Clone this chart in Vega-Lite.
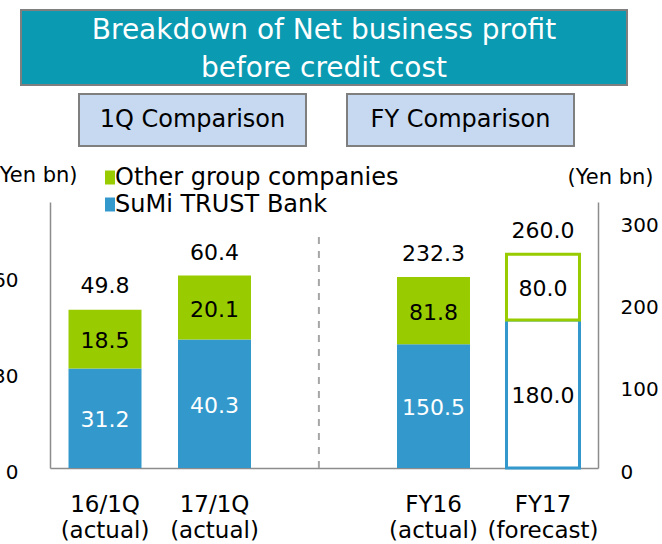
{
  "$schema": "https://vega.github.io/schema/vega-lite/v6.json",
  "autosize": {"type": "none"},
  "padding": {"left": -10, "top": 10, "right": 672, "bottom": 534},
  "config": {
    "font": "DejaVu Sans",
    "view": {"stroke": null},
    "axis": {"grid": false, "ticks": false, "tickSize": 0, "domainColor": "#8C8C8C", "domainWidth": 1.5, "labelColor": "black", "titleColor": "black", "titleFontWeight": "normal"}
  },
  "datasets": {
    "title": [{"label": "Breakdown of Net business profit\nbefore credit cost"}],
    "boxes": [{"label": "1Q Comparison"}, {"label": "FY Comparison"}],
    "q1": [
      {"period": "16/1Q (actual)", "series": "SuMi TRUST Bank", "kind": "actual", "value": 31.2},
      {"period": "16/1Q (actual)", "series": "Other group companies", "kind": "actual", "value": 18.5},
      {"period": "17/1Q (actual)", "series": "SuMi TRUST Bank", "kind": "actual", "value": 40.3},
      {"period": "17/1Q (actual)", "series": "Other group companies", "kind": "actual", "value": 20.1}
    ],
    "q1tot": [
      {"period": "16/1Q (actual)", "total": 49.8},
      {"period": "17/1Q (actual)", "total": 60.4}
    ],
    "fy": [
      {"period": "FY16 (actual)", "series": "SuMi TRUST Bank", "kind": "actual", "value": 150.5},
      {"period": "FY16 (actual)", "series": "Other group companies", "kind": "actual", "value": 81.8},
      {"period": "FY17 (forecast)", "series": "SuMi TRUST Bank", "kind": "forecast", "value": 180.0},
      {"period": "FY17 (forecast)", "series": "Other group companies", "kind": "forecast", "value": 80.0}
    ],
    "fytot": [
      {"period": "FY16 (actual)", "total": 232.3},
      {"period": "FY17 (forecast)", "total": 260.0}
    ],
    "divider": [{"period": "gap"}],
    "spacer": [{"k": 1}]
  },
  "spacing": 17,
  "vconcat": [
    {
      "spacing": 7,
      "vconcat": [
        {
          "width": 637,
          "height": 75,
          "data": {"name": "title"},
          "layer": [
            {
              "mark": {"type": "rect", "fill": "#0A9AB2", "stroke": "#7F7F7F", "strokeWidth": 2},
              "encoding": {"x": {"field": "label", "type": "nominal", "axis": null, "scale": {"paddingInner": 0, "paddingOuter": 0.02558, "align": 1}}}
            },
            {
              "mark": {"type": "text", "color": "white", "fontSize": 28, "lineBreak": "\n", "lineHeight": 38, "baseline": "middle", "dy": -17},
              "encoding": {"x": {"field": "label", "type": "nominal", "axis": null}, "text": {"field": "label"}}
            }
          ]
        },
        {
          "width": 584,
          "height": 52,
          "data": {"name": "boxes"},
          "layer": [
            {
              "mark": {"type": "rect", "fill": "#C6D9F1", "stroke": "#7F7F7F", "strokeWidth": 2},
              "encoding": {"x": {"field": "label", "type": "nominal", "axis": null, "scale": {"paddingInner": 0.15299, "paddingOuter": 0.166045, "align": 1}}}
            },
            {
              "mark": {"type": "text", "color": "black", "fontSize": 24, "baseline": "middle"},
              "encoding": {"x": {"field": "label", "type": "nominal", "axis": null}, "text": {"field": "label"}}
            }
          ]
        }
      ]
    },
    {
      "spacing": 0,
      "hconcat": [
        {
          "width": 1,
          "height": 1,
          "data": {"name": "spacer"},
          "mark": {"type": "rect", "opacity": 0}
        },
        {
          "width": 548,
          "height": 266,
          "layer": [
            {
              "layer": [
                {
                  "data": {"name": "q1"},
                  "transform": [{"stack": "value", "groupby": ["period"], "sort": [{"field": "series", "order": "descending"}], "as": ["v0", "v1"]}],
                  "mark": {"type": "bar"},
                  "encoding": {
                    "x": {"field": "period", "type": "nominal", "sort": null,
                      "scale": {"domain": ["16/1Q (actual)", "17/1Q (actual)", "gap", "FY16 (actual)", "FY17 (forecast)"], "paddingInner": 0.3333, "paddingOuter": 0.169},
                      "axis": {"orient": "bottom", "title": null, "labelAngle": 0, "labelExpr": "datum.value == 'gap' ? '' : split(datum.value, ' ')", "labelFontSize": 23, "labelPadding": 25, "labelLineHeight": 26, "labelBaseline": "top"}},
                    "y": {"field": "v0", "type": "quantitative", "scale": {"domain": [0, 83.5], "nice": false},
                      "axis": {"orient": "left", "values": [0, 30, 60], "title": "(Yen bn)", "labelFontSize": 20, "labelPadding": 32, "labelOffset": 4, "titleFontSize": 21, "titleAngle": 0, "titleX": 27, "titleY": -27, "titleAlign": "right", "titleBaseline": "middle"}},
                    "y2": {"field": "v1"},
                    "fill": {"field": "series", "type": "nominal",
                      "scale": {"domain": ["Other group companies", "SuMi TRUST Bank"], "range": ["#99CC00", "#3399CC"]},
                      "legend": {"orient": "none", "legendX": 108, "legendY": 155.5, "title": null, "labelFontSize": 24, "labelColor": "black", "labelLimit": 0, "symbolType": "M-0.714,-1H0.714V1H-0.714Z", "symbolSize": 196, "symbolStrokeWidth": 0, "rowPadding": 3, "labelOffset": -7, "padding": 0},
                      "condition": {"test": "datum.kind == 'forecast'", "value": "white"}},
                    "stroke": {"field": "series", "type": "nominal", "scale": {"domain": ["Other group companies", "SuMi TRUST Bank"], "range": ["#99CC00", "#3399CC"]}, "legend": null},
                    "strokeWidth": {"condition": {"test": "datum.kind == 'forecast'", "value": 3}, "value": 0}
                  }
                },
                {
                  "data": {"name": "q1"},
                  "transform": [
                    {"stack": "value", "groupby": ["period"], "sort": [{"field": "series", "order": "descending"}], "as": ["v0", "v1"]},
                    {"fold": ["v0", "v1"], "as": ["edge", "pos"]}
                  ],
                  "mark": {"type": "text", "fontSize": 22, "baseline": "middle", "dy": 2},
                  "encoding": {
                    "x": {"field": "period", "type": "nominal"},
                    "y": {"field": "pos", "type": "quantitative", "aggregate": "mean"},
                    "detail": [{"field": "series"}, {"field": "kind"}],
                    "text": {"field": "value", "type": "quantitative", "format": ".1f"},
                    "color": {"condition": {"test": "datum.series == 'SuMi TRUST Bank' && datum.kind == 'actual'", "value": "white"}, "value": "black"}
                  }
                },
                {
                  "data": {"name": "q1tot"},
                  "mark": {"type": "text", "fontSize": 22, "baseline": "middle", "dy": -23, "color": "black"},
                  "encoding": {
                    "x": {"field": "period", "type": "nominal"},
                    "y": {"field": "total", "type": "quantitative"},
                    "text": {"field": "total", "type": "quantitative", "format": ".1f"}
                  }
                },
                {
                  "data": {"name": "divider"},
                  "mark": {"type": "rule", "strokeDash": [7, 7], "color": "#A6A6A6", "strokeWidth": 2},
                  "encoding": {
                    "x": {"field": "period", "type": "nominal", "bandPosition": 0.43},
                    "y": {"datum": 0},
                    "y2": {"datum": 74}
                  }
                }
              ]
            },
            {
              "layer": [
                {
                  "data": {"name": "fy"},
                  "transform": [{"stack": "value", "groupby": ["period"], "sort": [{"field": "series", "order": "descending"}], "as": ["v0", "v1"]}],
                  "mark": {"type": "bar"},
                  "encoding": {
                    "x": {"field": "period", "type": "nominal"},
                    "y": {"field": "v0", "type": "quantitative", "scale": {"domain": [0, 323.6], "nice": false},
                      "axis": {"orient": "right", "values": [0, 100, 200, 300], "title": "(Yen bn)", "labelFontSize": 20, "labelPadding": 22, "labelOffset": 4, "titleFontSize": 21, "titleAngle": 0, "titleX": -31, "titleY": -25, "titleAlign": "left", "titleBaseline": "middle"}},
                    "y2": {"field": "v1"},
                    "fill": {"field": "series", "type": "nominal",
                      "scale": {"domain": ["Other group companies", "SuMi TRUST Bank"], "range": ["#99CC00", "#3399CC"]},
                      "condition": {"test": "datum.kind == 'forecast'", "value": "white"}},
                    "stroke": {"field": "series", "type": "nominal", "scale": {"domain": ["Other group companies", "SuMi TRUST Bank"], "range": ["#99CC00", "#3399CC"]}, "legend": null},
                    "strokeWidth": {"condition": {"test": "datum.kind == 'forecast'", "value": 3}, "value": 0}
                  }
                },
                {
                  "data": {"name": "fy"},
                  "transform": [
                    {"stack": "value", "groupby": ["period"], "sort": [{"field": "series", "order": "descending"}], "as": ["v0", "v1"]},
                    {"fold": ["v0", "v1"], "as": ["edge", "pos"]}
                  ],
                  "mark": {"type": "text", "fontSize": 22, "baseline": "middle", "dy": 2},
                  "encoding": {
                    "x": {"field": "period", "type": "nominal"},
                    "y": {"field": "pos", "type": "quantitative", "aggregate": "mean"},
                    "detail": [{"field": "series"}, {"field": "kind"}],
                    "text": {"field": "value", "type": "quantitative", "format": ".1f"},
                    "color": {"condition": {"test": "datum.series == 'SuMi TRUST Bank' && datum.kind == 'actual'", "value": "white"}, "value": "black"}
                  }
                },
                {
                  "data": {"name": "fytot"},
                  "mark": {"type": "text", "fontSize": 22, "baseline": "middle", "dy": -23, "color": "black"},
                  "encoding": {
                    "x": {"field": "period", "type": "nominal"},
                    "y": {"field": "total", "type": "quantitative"},
                    "text": {"field": "total", "type": "quantitative", "format": ".1f"}
                  }
                }
              ]
            }
          ],
          "resolve": {"scale": {"y": "independent"}}
        }
      ]
    }
  ]
}
